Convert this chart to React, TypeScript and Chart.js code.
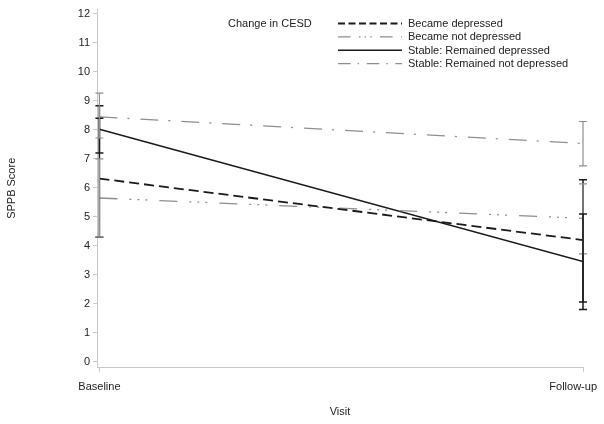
import React, { useEffect, useRef } from "react";
import { Chart, registerables } from "chart.js";

Chart.register(...registerables);

const visits = ["Baseline", "Follow-up"];
const yTickValues = [0, 1, 2, 3, 4, 5, 6, 7, 8, 9, 10, 11, 12];

const seriesNames = [
  "Became depressed",
  "Became not depressed",
  "Stable: Remained depressed",
  "Stable: Remained not depressed",
];

const becameDepressed = [6.32, 4.2];
const becameDepressedLo = [4.3, 2.06];
const becameDepressedHi = [8.4, 6.28];

const becameNotDepressed = [5.65, 4.95];
const becameNotDepressedLo = [4.3, 3.72];
const becameNotDepressedHi = [7.0, 6.14];

const stableDepressed = [8.02, 3.46];
const stableDepressedLo = [7.2, 1.8];
const stableDepressedHi = [8.83, 5.1];

const stableNotDepressed = [8.45, 7.53];
const stableNotDepressedLo = [7.72, 6.76];
const stableNotDepressedHi = [9.27, 8.29];

const FONT = "'Liberation Sans', Arial, sans-serif";
const BLACK = "#1a1a1a";
const GRAY = "#8e8e8e";

const styles = [
  { color: BLACK, dash: [10, 5], width: 1.8, barWidth: 1.5 },
  { color: GRAY, dash: [18, 12, 2, 6, 2, 6, 2, 12], width: 1.3, barWidth: 1.2 },
  { color: BLACK, dash: [], width: 1.5, barWidth: 1.5 },
  { color: GRAY, dash: [18, 10, 2, 11], width: 1.3, barWidth: 1.2 },
];

const values = [becameDepressed, becameNotDepressed, stableDepressed, stableNotDepressed];
const lows = [becameDepressedLo, becameNotDepressedLo, stableDepressedLo, stableNotDepressedLo];
const highs = [becameDepressedHi, becameNotDepressedHi, stableDepressedHi, stableNotDepressedHi];

const errorBarPlugin = {
  id: "errorBars",
  afterDatasetsDraw(chart: any) {
    const ctx = chart.ctx;
    const xs = chart.scales.x;
    const ys = chart.scales.y;
    ctx.save();
    values.forEach((_, si) => {
      const st = styles[si];
      ctx.strokeStyle = st.color;
      ctx.lineWidth = st.barWidth;
      ctx.setLineDash([]);
      visits.forEach((_, i) => {
        const x = xs.getPixelForValue(i);
        const y1 = ys.getPixelForValue(lows[si][i]);
        const y2 = ys.getPixelForValue(highs[si][i]);
        ctx.beginPath();
        ctx.moveTo(x, y1);
        ctx.lineTo(x, y2);
        ctx.moveTo(x - 4, y1);
        ctx.lineTo(x + 4, y1);
        ctx.moveTo(x - 4, y2);
        ctx.lineTo(x + 4, y2);
        ctx.stroke();
      });
    });
    ctx.restore();
  },
};

const legendAndLabelsPlugin = {
  id: "customLegend",
  afterDraw(chart: any) {
    const ctx = chart.ctx;
    const xs = chart.scales.x;
    ctx.save();
    ctx.font = `11px ${FONT}`;
    ctx.fillStyle = "#222";
    ctx.textBaseline = "middle";
    // x tick labels
    const yLab = xs.top + 20;
    visits.forEach((v, i) => {
      const x = xs.getPixelForValue(i);
      const w = ctx.measureText(v).width;
      if (x + w / 2 > chart.width - 7) {
        ctx.textAlign = "right";
        ctx.fillText(v, chart.width - 7, yLab);
      } else {
        ctx.textAlign = "center";
        ctx.fillText(v, x, yLab);
      }
    });
    // legend
    ctx.textAlign = "left";
    ctx.fillText("Change in CESD", 228, 24);
    seriesNames.forEach((name, i) => {
      const y = 23.5 + i * 13.4;
      const st = styles[i];
      ctx.strokeStyle = st.color;
      ctx.lineWidth = st.width;
      ctx.setLineDash(st.dash.map((d) => d * 0.7));
      ctx.beginPath();
      ctx.moveTo(338, y);
      ctx.lineTo(402, y);
      ctx.stroke();
      ctx.setLineDash([]);
      ctx.fillStyle = "#222";
      ctx.fillText(name, 408, y + 0.5);
    });
    ctx.restore();
  },
};

export default function App() {
  const ref = useRef<HTMLCanvasElement | null>(null);

  useEffect(() => {
    if (!ref.current) return;
    const datasets = seriesNames.map((name, si) => ({
      label: name,
      data: visits.map((_, i) => ({ x: i, y: values[si][i] })),
      borderColor: styles[si].color,
      borderWidth: styles[si].width,
      borderDash: styles[si].dash,
      pointRadius: 0,
      fill: false,
      tension: 0,
    }));
    const chart = new Chart(ref.current, {
      type: "line",
      data: { datasets },
      plugins: [errorBarPlugin, legendAndLabelsPlugin],
      options: {
        animation: false,
        responsive: false,
        devicePixelRatio: 1,
        layout: { padding: { left: 0, right: 21, top: 8, bottom: 0 } },
        plugins: { legend: { display: false }, tooltip: { enabled: false } },
        scales: {
          x: {
            type: "linear",
            min: -0.005,
            max: 1,
            afterBuildTicks: (s: any) => {
              s.ticks = visits.map((_, i) => ({ value: i }));
            },
            afterFit: (s: any) => {
              s.height = 57;
              s.paddingLeft = 0;
              s.paddingRight = 0;
            },
            ticks: { display: false },
            grid: {
              drawOnChartArea: false,
              drawTicks: true,
              tickLength: 5,
              color: "#c8c8c8",
            },
            border: { color: "#c8c8c8", width: 1 },
            title: {
              display: true,
              text: "Visit",
              color: "#222",
              font: { family: FONT, size: 11 },
              padding: { top: 0, bottom: 5 },
            },
          },
          y: {
            type: "linear",
            min: -0.18,
            max: 12.15,
            afterBuildTicks: (s: any) => {
              s.ticks = yTickValues.map((v) => ({ value: v }));
            },
            afterFit: (s: any) => {
              s.width = 97;
            },
            ticks: {
              color: "#222",
              font: { family: FONT, size: 11 },
              padding: 3,
            },
            grid: {
              drawOnChartArea: false,
              drawTicks: true,
              tickLength: 4,
              color: "#c8c8c8",
            },
            border: { color: "#c8c8c8", width: 1 },
            title: {
              display: true,
              text: "SPPB Score",
              color: "#222",
              font: { family: FONT, size: 11 },
              padding: { top: 5, bottom: 0 },
            },
          },
        },
      },
    });
    return () => chart.destroy();
  }, []);

  return (
    <div style={{ position: "fixed", left: 0, top: 0, width: 604, height: 424, background: "#fff" }}>
      <canvas ref={ref} width={604} height={424} />
    </div>
  );
}
